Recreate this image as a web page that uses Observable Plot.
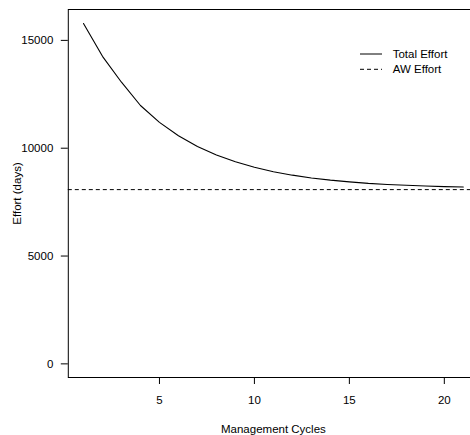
<!DOCTYPE html>
<html>
<head>
<meta charset="utf-8">
<script src="https://cdn.jsdelivr.net/npm/d3@7"></script>
<script src="https://cdn.jsdelivr.net/npm/@observablehq/plot@0.6"></script>
<style>
  html, body { margin: 0; padding: 0; background: white; overflow: hidden; }
  #chart { width: 470px; height: 435px; overflow: hidden; }
</style>
</head>
<body>
<div id="chart"></div>
<script>
// Data
const cycles = [1, 2, 3, 4, 5, 6, 7, 8, 9, 10, 11, 12, 13, 14, 15, 16, 17, 18, 19, 20, 21];
const totalEffort = [15780, 14260, 13060, 11980, 11200, 10580, 10080, 9690, 9370, 9120, 8910, 8750, 8620, 8520, 8440, 8370, 8320, 8280, 8250, 8220, 8200];
const awEffort = 8080;
const xTicks = [5, 10, 15, 20];
const yTicks = [0, 5000, 10000, 15000];
const seriesNames = ["Total Effort", "AW Effort"];

const data = cycles.map((c, i) => ({cycle: c, effort: totalEffort[i]}));

const font = "'Liberation Sans', Arial, Helvetica, sans-serif";

const chart = Plot.plot({
  width: 480,
  height: 435,
  marginLeft: 67.8,
  marginRight: 2,
  marginTop: 9,
  marginBottom: 58,
  style: {fontFamily: font, fontSize: "11.5px", color: "black", background: "white", maxWidth: "none", overflow: "hidden"},
  x: {domain: [0.2, 21.8]},
  y: {domain: [-632, 16432]},
  marks: [
    Plot.ruleY([awEffort], {stroke: "black", strokeWidth: 1, strokeDasharray: "4,3"}),
    Plot.line(data, {x: "cycle", y: "effort", stroke: "black", strokeWidth: 1.1}),
    Plot.frame({stroke: "black", strokeWidth: 1}),
    Plot.axisX({ticks: xTicks, tickFormat: d => String(d), tickSize: 7, tickPadding: 11, label: "Management Cycles", labelAnchor: "center", labelOffset: 55, labelArrow: "none", stroke: "black", fill: "black"}),
    Plot.axisY({ticks: yTicks, tickFormat: d => String(d), tickSize: 7, tickPadding: 8, label: "Effort (days)", labelAnchor: "center", labelOffset: 55, labelArrow: "none", stroke: "black", fill: "black"})
  ]
});

document.getElementById("chart").appendChild(chart);

// Legend (top right, inside plot box)
const svg = d3.select(chart);
const leg = svg.append("g").attr("font-family", font).attr("font-size", "11.5px").attr("text-anchor", "start");
const legRows = [
  {name: seriesNames[0], y: 54, dash: null},
  {name: seriesNames[1], y: 69.3, dash: "4,3"}
];
legRows.forEach(r => {
  leg.append("line").attr("x1", 360).attr("x2", 382).attr("y1", r.y).attr("y2", r.y)
    .attr("stroke", "black").attr("stroke-width", 1)
    .attr("stroke-dasharray", r.dash);
  leg.append("text").attr("x", 392.7).attr("y", r.y).attr("dy", "0.35em")
    .attr("text-anchor", "start").attr("fill", "black").text(r.name);
});
</script>
</body>
</html>
